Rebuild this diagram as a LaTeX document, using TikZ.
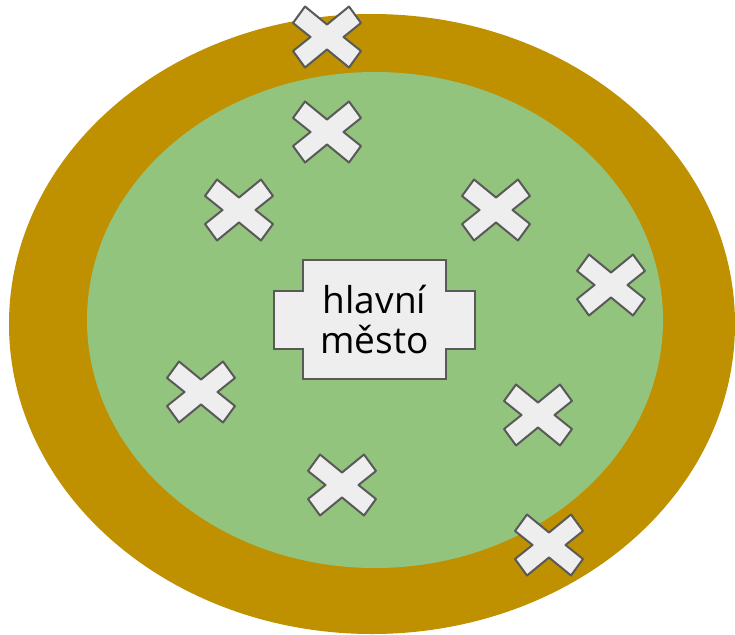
\documentclass[tikz,border=0pt]{standalone}
\usepackage{fontspec}
\setmainfont{Open Sans}
\definecolor{brownring}{HTML}{BF9000}
\definecolor{greenin}{HTML}{93C47D}
\definecolor{xfill}{HTML}{EEEEEE}
\definecolor{xline}{HTML}{595959}
\tikzset{
  xstyle/.style={fill=xfill, draw=xline, line width=2pt, line join=round},
  xmark/.pic={\path[xstyle] (-34,-14) -- (-22,-30.5) -- (0,-12.5) -- (22,-30.5) -- (34,-14) -- (16.5,0) -- (34,14) -- (22,30.5) -- (0,12.5) -- (-22,30.5) -- (-34,14) -- (-16.5,0) -- cycle;},
  capbox/.style={fill=xfill, draw=xline, line width=2pt},
  captext/.style={font=\fontsize{37}{40}\selectfont, align=center, text=black}
}
\begin{document}
\begin{tikzpicture}[x=1pt, y=-1pt]
\useasboundingbox (0,0) rectangle (735,634);
\fill[brownring] (372,324) ellipse [x radius=363, y radius=310];
\fill[greenin] (375,320) ellipse [x radius=288, y radius=248];
\path[capbox] (303,260) -- (446,260) -- (446,291) -- (475,291) -- (475,349) -- (446,349) -- (446,379) -- (303,379) -- (303,349) -- (274,349) -- (274,291) -- (303,291) -- cycle;
\node[captext] (capital) at (374.5,320) {hlavní\\město};
\pic at (327,37) {xmark};
\pic at (327,132) {xmark};
\pic at (239,210) {xmark};
\pic at (496,210) {xmark};
\pic at (611,285) {xmark};
\pic at (201,392) {xmark};
\pic at (538,415) {xmark};
\pic at (342,485) {xmark};
\pic at (549,545) {xmark};
\end{tikzpicture}
\end{document}
